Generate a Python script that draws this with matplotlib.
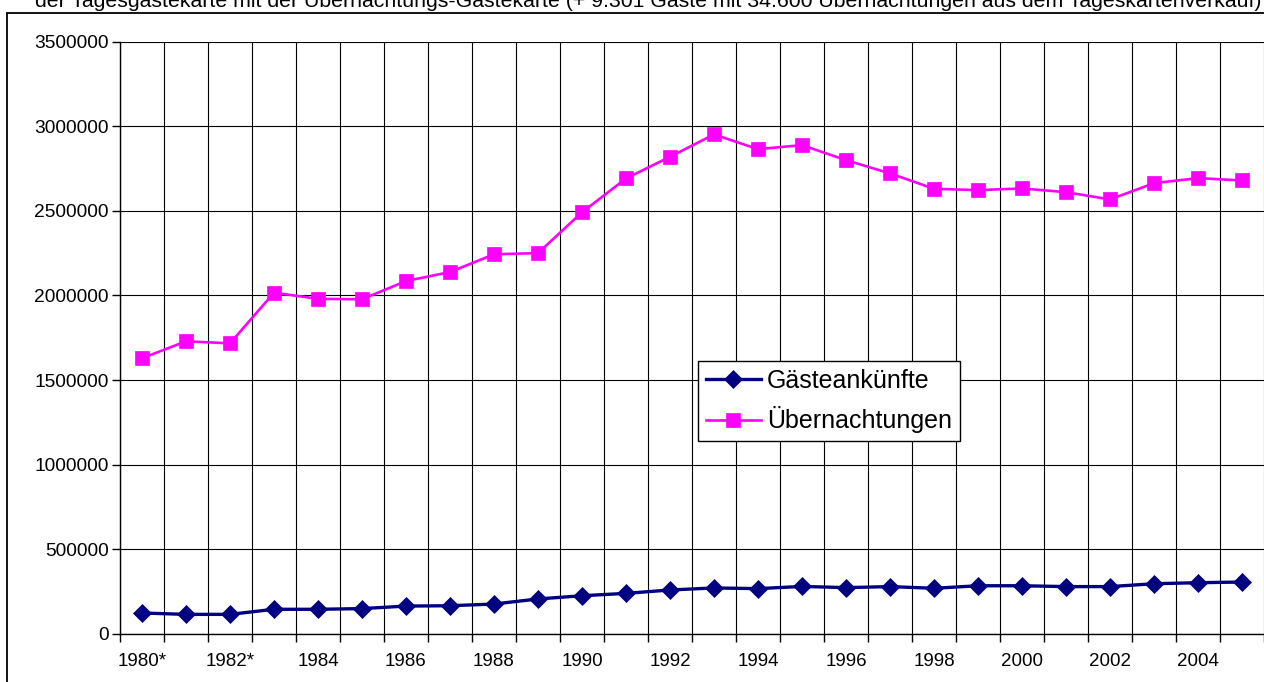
import matplotlib
matplotlib.use("Agg")
import matplotlib.pyplot as plt
from matplotlib.patches import Rectangle
from matplotlib.ticker import FixedLocator, NullFormatter, FixedFormatter

plt.rcParams['font.family'] = ['Liberation Sans', 'DejaVu Sans']

years = ["1980*", "1981*", "1982*", "1983", "1984", "1985", "1986", "1987", "1988",
         "1989", "1990", "1991", "1992", "1993", "1994", "1995", "1996", "1997",
         "1998", "1999", "2000", "2001", "2002", "2003", "2004", "2005"]

gaesteankuenfte = [124000, 116000, 116000, 146000, 146000, 150000, 165000, 167000,
                   177000, 207000, 226000, 240000, 260000, 272000, 268000, 281000,
                   274000, 280000, 270000, 285000, 285000, 280000, 280000, 297000,
                   303000, 307000]

uebernachtungen = [1629000, 1729000, 1717000, 2016000, 1980000, 1977000, 2085000,
                   2138000, 2243000, 2250000, 2491000, 2691000, 2819000, 2951000,
                   2864000, 2888000, 2799000, 2721000, 2630000, 2622000, 2632000,
                   2610000, 2567000, 2663000, 2693000, 2679000]

y_ticks = [0, 500000, 1000000, 1500000, 2000000, 2500000, 3000000, 3500000]

title_text = ("der Tagesgästekarte mit der Übernachtungs-Gästekarte "
              "(+ 9.301 Gäste mit 34.600 Übernachtungen aus dem Tageskartenverkauf)")

W, H = 1264, 682
fig = plt.figure(figsize=(W / 100, H / 100), dpi=100)
fig.patch.set_facecolor('white')

# outer chart frame
fig.add_artist(Rectangle((6.5 / W, -0.1), 1.2, 1.1 - 12.5 / H,
                         transform=fig.transFigure, fill=False,
                         edgecolor='black', linewidth=1.3))

ax = fig.add_axes([120 / W, 1 - 634 / H, (W - 120) / W, (634 - 41.5) / H])

x = list(range(len(years)))
ax.plot(x, gaesteankuenfte, color='#000080', lw=2.4, marker='D', ms=8.8,
        mec='#000080', mew=0.5, label='Gästeankünfte', zorder=3)
ax.plot(x, uebernachtungen, color='#FF00FF', lw=1.9, marker='s', ms=9.8,
        mec='#FF00FF', mew=0.5, label='Übernachtungen', zorder=3)

ax.set_xlim(-0.5, len(years) - 0.5)
ax.set_ylim(0, 3500000)

ax.set_yticks(y_ticks)
ax.set_yticklabels([str(v) for v in y_ticks])

bounds = [i - 0.5 for i in range(len(years) + 1)]
ax.xaxis.set_major_locator(FixedLocator(bounds))
ax.xaxis.set_major_formatter(NullFormatter())
lab_pos = [i for i in x if i % 2 == 0]
ax.xaxis.set_minor_locator(FixedLocator(lab_pos))
ax.xaxis.set_minor_formatter(FixedFormatter([years[i] for i in lab_pos]))

ax.tick_params(axis='x', which='major', length=6, width=1, color='black', direction='out')
ax.tick_params(axis='x', which='minor', length=0, pad=14, labelsize=13.5)
ax.tick_params(axis='y', which='major', length=6, width=1, color='black',
               direction='out', pad=2, labelsize=13.8)

ax.grid(True, which='major', axis='both', color='black', lw=0.8)
ax.set_axisbelow(True)
for s in ['left', 'bottom']:
    ax.spines[s].set_color('black')
    ax.spines[s].set_linewidth(1.0)
ax.spines['top'].set_visible(False)
ax.spines['right'].set_visible(False)

leg = ax.legend(loc='center', bbox_to_anchor=(829 / W, 1 - 401 / H),
                bbox_transform=fig.transFigure, fontsize=18, frameon=True,
                fancybox=False, edgecolor='black', framealpha=1,
                handlelength=2.2, handletextpad=0.25, labelspacing=0.55,
                borderpad=0.32, borderaxespad=0)
leg.get_frame().set_linewidth(1.0)

fig.text(648 / W, 1 - 7 / H, title_text, ha='center', va='baseline', fontsize=15.3)

fig.savefig('out.png', dpi=100)
